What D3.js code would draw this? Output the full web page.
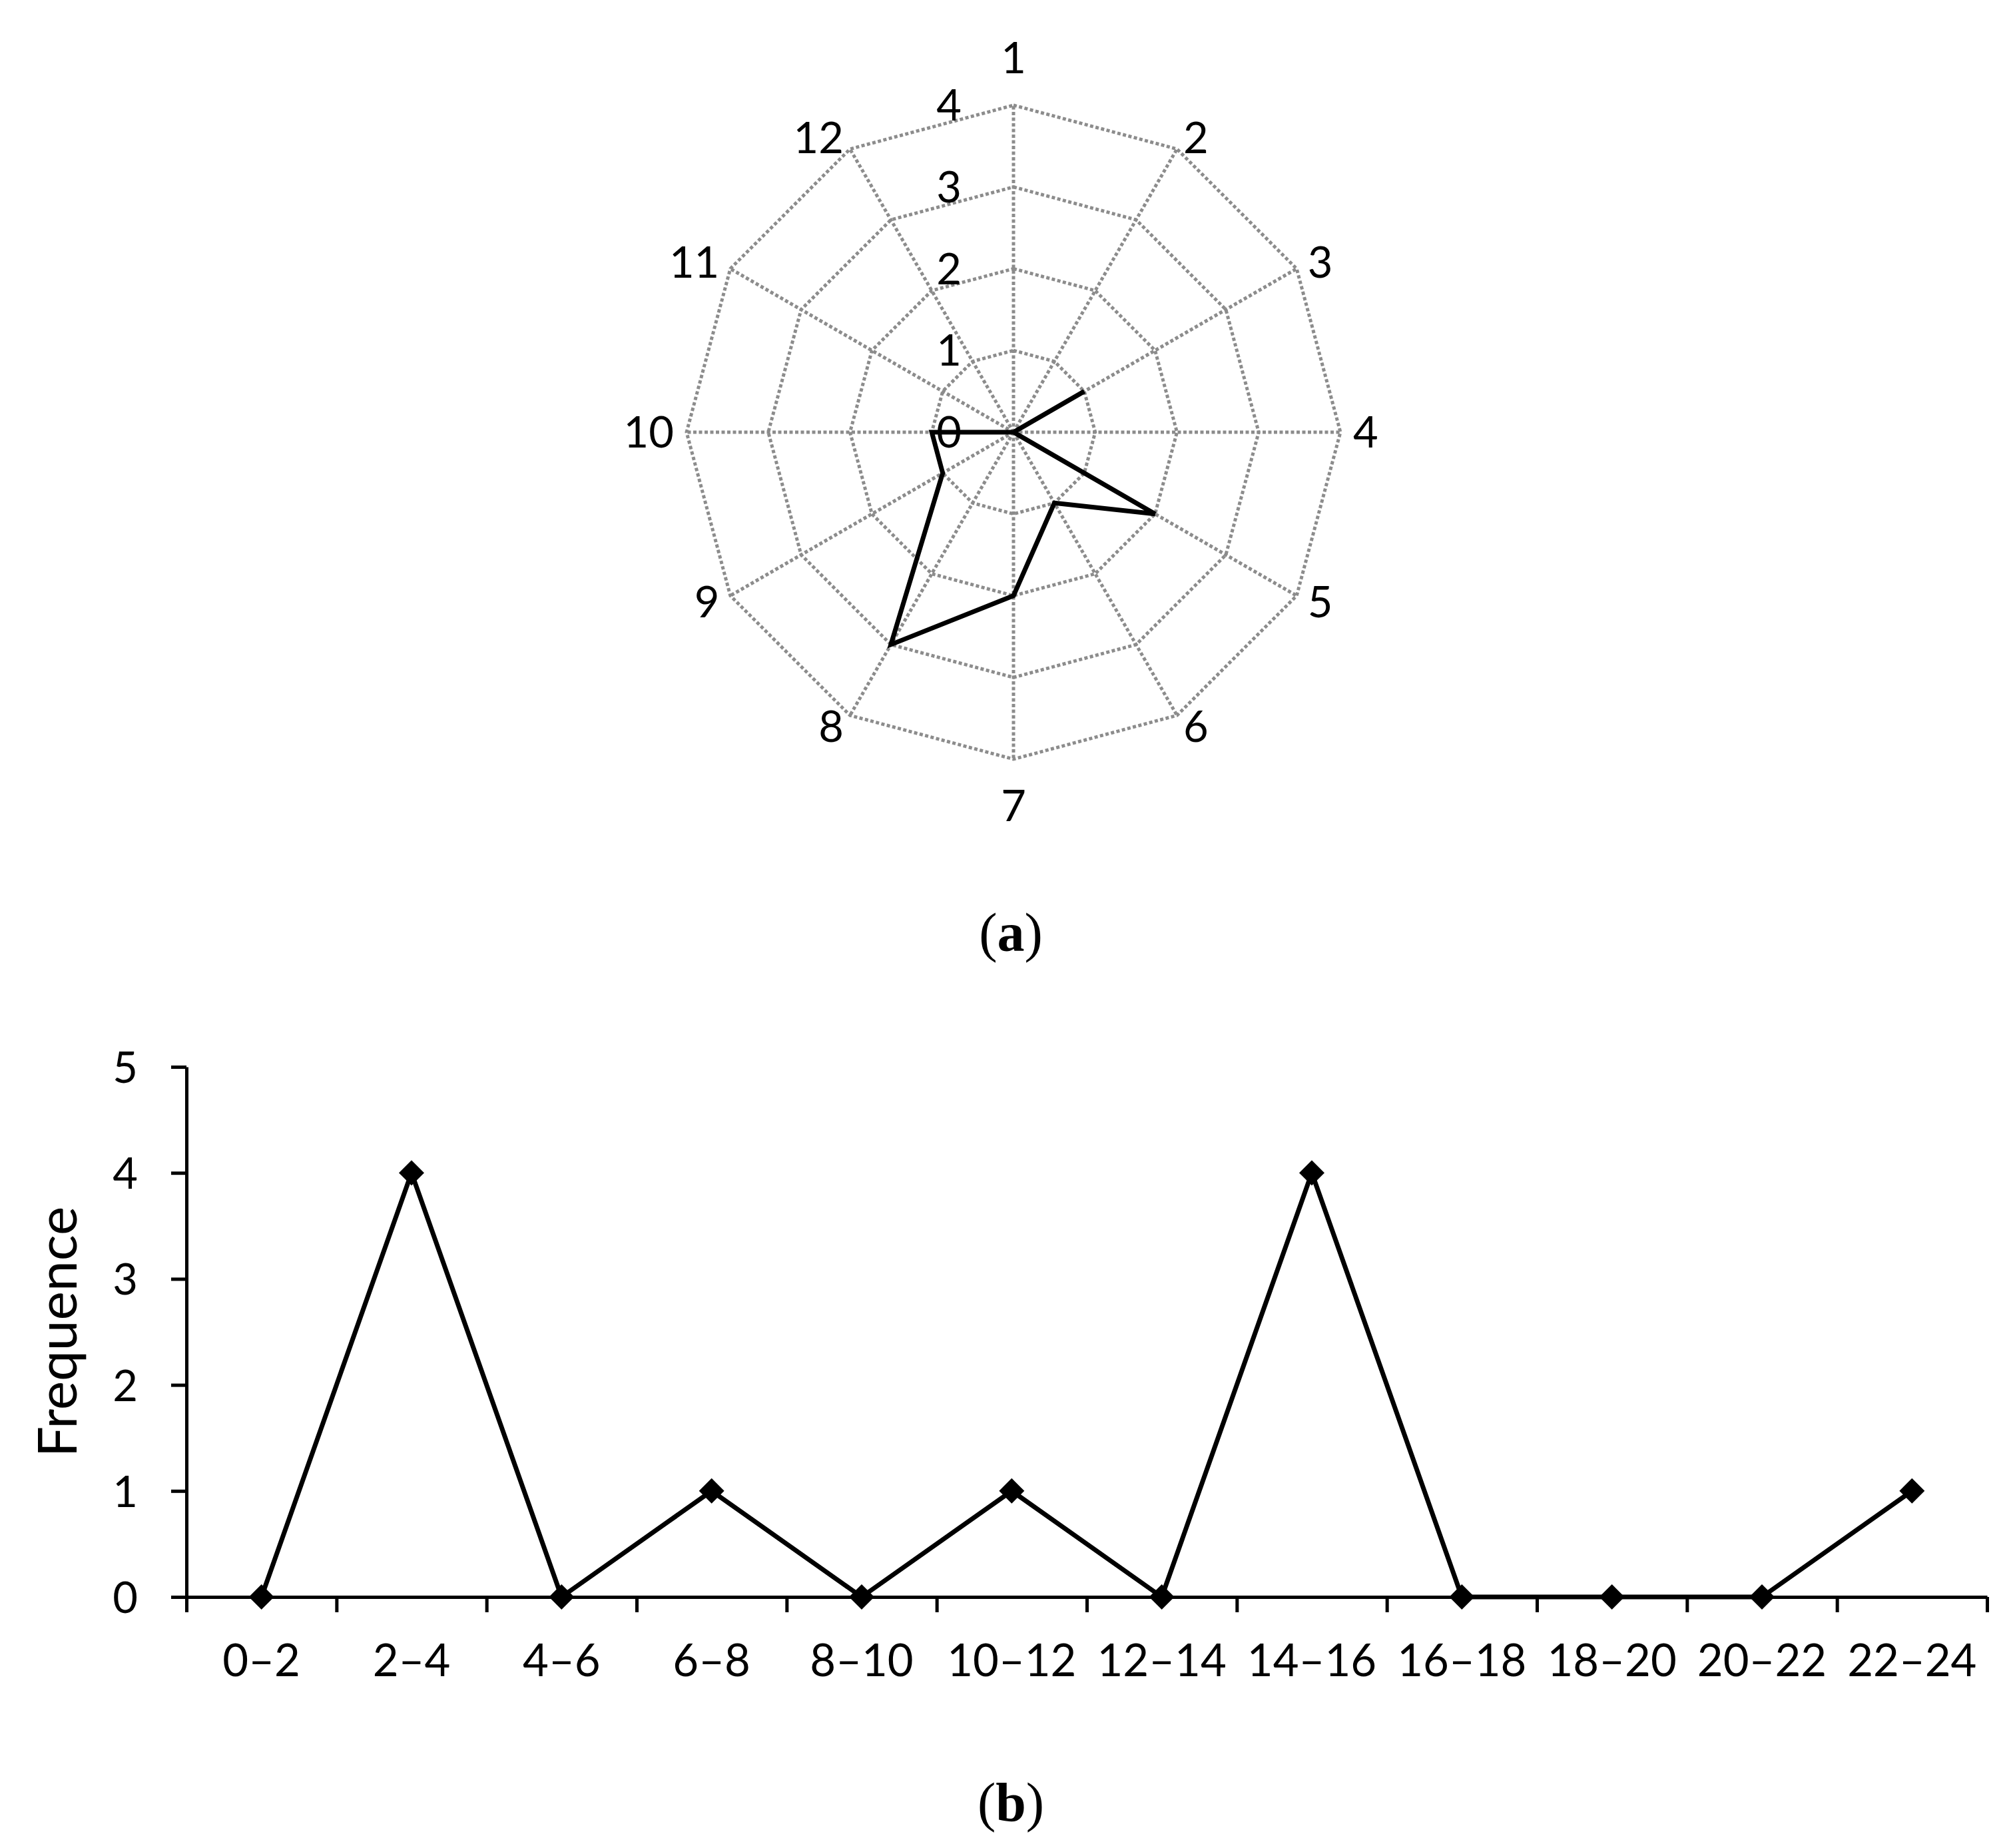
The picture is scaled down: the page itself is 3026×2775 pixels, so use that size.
<!DOCTYPE html>
<html>
<head>
<meta charset="utf-8">
<script src="https://cdn.jsdelivr.net/npm/d3@7"></script>
<style>
  body { margin: 0; background: #fff; }
  svg { display: block; }
</style>
</head>
<body>
<div id="chart"></div>
<script>
// data
const radarAxes = ["1", "2", "3", "4", "5", "6", "7", "8", "9", "10", "11", "12"];
const radarValues = [0, 0, 1, 0, 2, 1, 2, 3, 1, 1, 0, 0];
const radarTicks = [0, 1, 2, 3, 4];

const hourBins = ["0–2", "2–4", "4–6", "6–8", "8–10", "10–12", "12–14", "14–16", "16–18", "18–20", "20–22", "22–24"];
const frequence = [0, 4, 0, 1, 0, 1, 0, 4, 0, 0, 0, 1];
const freqTicks = [0, 1, 2, 3, 4, 5];

const width = 3026,
      height = 2775;

const gridColor = "#8c8c8c",
      sans = "Lato",
      serif = "Liberation Serif";

const svg = d3.select("#chart").append("svg")
    .attr("width", width)
    .attr("height", height);

svg.append("rect").attr("width", width).attr("height", height).attr("fill", "#fff");

// ---------- (a) radar ----------
const cx = 1522, cy = 649;
const r = d3.scaleLinear().domain([0, 4]).range([0, 491]);
const step = 2 * Math.PI / radarAxes.length;

const radar = svg.append("g").attr("transform", `translate(${cx},${cy})`);

const ring = d3.lineRadial()
    .angle((d, i) => i * step)
    .radius(d => r(d))
    .curve(d3.curveLinearClosed);

// rings
radar.selectAll(".ring")
  .data(radarTicks.slice(1))
  .enter().append("path")
    .attr("class", "ring")
    .attr("d", t => ring(radarAxes.map(() => t)))
    .attr("fill", "none")
    .attr("stroke", gridColor)
    .attr("stroke-width", 5)
    .attr("stroke-dasharray", "5,3.5");

// spokes
radar.selectAll(".spoke")
  .data(radarAxes)
  .enter().append("line")
    .attr("class", "spoke")
    .attr("x1", 0).attr("y1", 0)
    .attr("x2", (d, i) => r(4) * Math.sin(i * step))
    .attr("y2", (d, i) => -r(4) * Math.cos(i * step))
    .attr("stroke", gridColor)
    .attr("stroke-width", 5)
    .attr("stroke-dasharray", "5,3.5");

// value labels along the top spoke
radar.selectAll(".rtick")
  .data(radarTicks)
  .enter().append("text")
    .attr("class", "rtick")
    .attr("x", -78)
    .attr("y", t => -r(t) + 23)
    .attr("text-anchor", "end")
    .style("font-family", sans)
    .style("font-size", "65px")
    .text(t => t);

// category labels
radar.selectAll(".cat")
  .data(radarAxes)
  .enter().append("text")
    .attr("class", "cat")
    .each(function(d, i) {
      const s = Math.sin(i * step), c = Math.cos(i * step);
      const vx = r(4) * s, vy = -r(4) * c;
      const t = d3.select(this);
      if (Math.abs(s) < 0.01) {
        t.attr("x", vx)
         .attr("y", c > 0 ? vy - 48 : vy + 93)
         .attr("text-anchor", "middle");
      } else {
        t.attr("x", vx + 19 * s)
         .attr("y", vy - 19 * c + 23)
         .attr("text-anchor", s > 0 ? "start" : "end");
      }
    })
    .style("font-family", sans)
    .style("font-size", "65px")
    .text(d => d);

// data line
radar.append("path")
    .attr("d", ring(radarValues))
    .attr("fill", "none")
    .attr("stroke", "#000")
    .attr("stroke-width", 7)
    .attr("stroke-linejoin", "miter")
    .attr("stroke-miterlimit", 3);

svg.append("text")
    .attr("x", 1518)
    .attr("y", 1428)
    .attr("text-anchor", "middle")
    .style("font-family", serif)
    .style("font-size", "82px")
    .html('(<tspan font-weight="bold">a</tspan>)');

// ---------- (b) line chart ----------
const x0 = 280, x1 = 2984;
const x = d3.scaleLinear().domain([0, hourBins.length]).range([x0, x1]);
const y = d3.scaleLinear().domain([0, 5]).range([2398, 1602]);

const xAxis = d3.axisBottom(x)
    .tickValues(d3.range(hourBins.length + 1))
    .tickSizeInner(23)
    .tickSizeOuter(0)
    .tickFormat("");

const yAxis = d3.axisLeft(y)
    .tickValues(freqTicks)
    .tickSizeInner(23)
    .tickSizeOuter(0)
    .tickPadding(50)
    .tickFormat(d3.format("d"));

const gx = svg.append("g")
    .attr("transform", `translate(0,${y(0)})`)
    .call(xAxis);

const gy = svg.append("g")
    .attr("transform", `translate(${x0},0)`)
    .call(yAxis);

[gx, gy].forEach(g => {
  g.selectAll("path, line").attr("stroke", "#000").attr("stroke-width", 5);
  g.selectAll("text")
    .style("font-family", sans)
    .style("font-size", "65px")
    .attr("fill", "#000");
});
gy.selectAll("text").attr("dy", "0.36em");

// category labels centred in each band
svg.selectAll(".xlab")
  .data(hourBins)
  .enter().append("text")
    .attr("class", "xlab")
    .attr("x", (d, i) => x(i + 0.5))
    .attr("y", 2517)
    .attr("text-anchor", "middle")
    .style("font-family", sans)
    .style("font-size", "67px")
    .text(d => d);

svg.append("text")
    .attr("transform", `translate(115,${(y(0) + y(5)) / 2}) rotate(-90)`)
    .attr("text-anchor", "middle")
    .style("font-family", sans)
    .style("font-size", "82px")
    .text("Frequence");

const line = d3.line()
    .x((d, i) => x(i + 0.5))
    .y(d => y(d));

svg.append("path")
    .datum(frequence)
    .attr("d", line)
    .attr("fill", "none")
    .attr("stroke", "#000")
    .attr("stroke-width", 7)
    .attr("stroke-linejoin", "round");

const diamond = d3.symbol().type(d3.symbolSquare).size(720);

svg.selectAll(".dot")
  .data(frequence)
  .enter().append("path")
    .attr("class", "dot")
    .attr("d", diamond)
    .attr("transform", (d, i) => `translate(${x(i + 0.5)},${y(d)}) rotate(45)`)
    .attr("fill", "#000");

svg.append("text")
    .attr("x", 1518)
    .attr("y", 2734)
    .attr("text-anchor", "middle")
    .style("font-family", serif)
    .style("font-size", "82px")
    .html('(<tspan font-weight="bold">b</tspan>)');
</script>
</body>
</html>
